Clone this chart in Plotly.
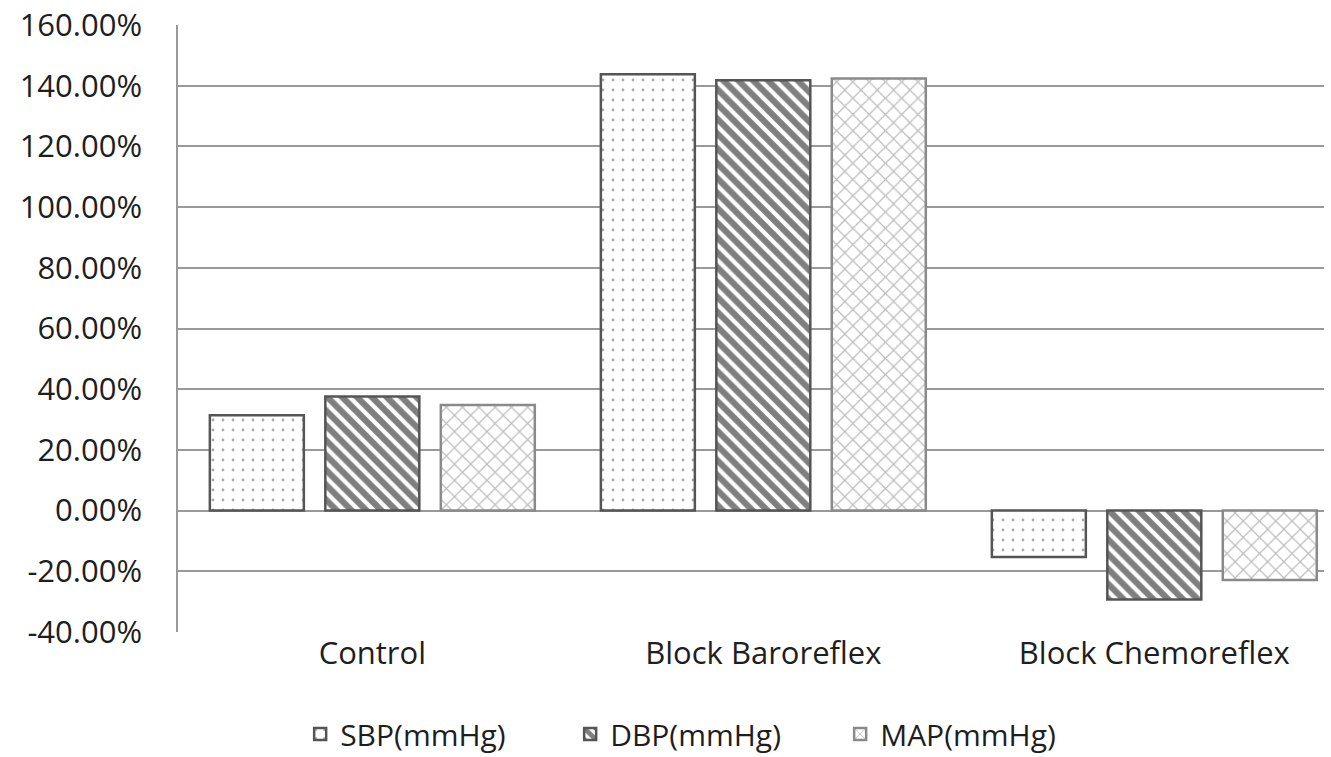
import plotly.graph_objects as go

categories = ["Control", "Block Baroreflex", "Block Chemoreflex"]
sbp = [31.4, 143.8, -15.3]
dbp = [37.6, 141.8, -29.3]
map_ = [34.8, 142.4, -22.9]
series_names = ["SBP(mmHg)", "DBP(mmHg)", "MAP(mmHg)"]
tick_vals = [-40, -20, 0, 20, 40, 60, 80, 100, 120, 140, 160]
tick_text = ["%.2f%%" % v for v in tick_vals]

FONT = "Open Sans"
TXT = "#1e1e1e"

fig = go.Figure()
fig.add_bar(
    x=categories, y=sbp, name=series_names[0],
    marker=dict(color="white", line=dict(color="#555555", width=2.5),
                pattern=dict(shape=".", fgcolor="#555555", bgcolor="white", size=10, solidity=0.06)),
)
fig.add_bar(
    x=categories, y=dbp, name=series_names[1],
    marker=dict(color="white", line=dict(color="#555555", width=2.5),
                pattern=dict(shape="\\", fgcolor="#000000", bgcolor="white", size=10.5, solidity=0.6)),
)
fig.add_bar(
    x=categories, y=map_, name=series_names[2],
    marker=dict(color="white", line=dict(color="#8a8a8a", width=2.5),
                pattern=dict(shape="x", fgcolor="#7a7a7a", bgcolor="white", size=11.5, solidity=0.2)),
)

fig.update_layout(
    width=1331, height=757,
    margin=dict(l=178, r=7, t=25, b=125, autoexpand=False),
    paper_bgcolor="white", plot_bgcolor="white",
    barmode="group", bargap=0.114, bargroupgap=0.186,
    font=dict(family=FONT, size=31, color=TXT),
    showlegend=True,
    legend=dict(orientation="h", x=0.46, xanchor="center", y=-0.168, yanchor="middle",
                font=dict(family=FONT, size=30, color=TXT),
                entrywidth=225, entrywidthmode="pixels",
                itemwidth=30, traceorder="normal"),
)
fig.update_xaxes(
    type="category", range=[-0.497, 2.434],
    showgrid=False, showline=False, ticks="", zeroline=False,
    ticklabelstandoff=0,
    tickfont=dict(family=FONT, size=31, color=TXT),
)
fig.update_yaxes(
    range=[-40, 160], tickvals=tick_vals, ticktext=tick_text,
    showgrid=True, gridcolor="#999999", gridwidth=1.5,
    zeroline=True, zerolinecolor="#999999", zerolinewidth=1.5,
    showline=True, linecolor="#999999", linewidth=1.5,
    ticks="", ticklabelstandoff=28,
    tickfont=dict(family=FONT, size=31, color=TXT),
)

fig.write_html("out.html")
